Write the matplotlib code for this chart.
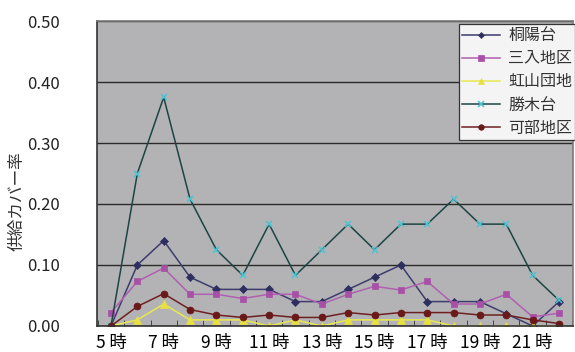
import numpy as np
import matplotlib.pyplot as plt
from matplotlib.ticker import MultipleLocator, FixedLocator

plt.rcParams['font.family'] = ['Noto Sans CJK JP', 'DejaVu Sans']

hours = list(range(5, 23))
tick_labels = [f"{h} 時" if h % 2 == 1 else "" for h in hours]

touyoudai = [0.00, 0.10, 0.14, 0.08, 0.06, 0.06, 0.06, 0.04, 0.04,
             0.06, 0.08, 0.10, 0.04, 0.04, 0.04, 0.02, 0.00, 0.04]
mirido = [0.022, 0.073, 0.095, 0.052, 0.052, 0.045, 0.052, 0.052, 0.036,
          0.052, 0.065, 0.059, 0.073, 0.036, 0.036, 0.052, 0.015, 0.021]
nijiyama = [0.00, 0.01, 0.036, 0.01, 0.01, 0.01, 0.00, 0.01, 0.00,
            0.01, 0.01, 0.01, 0.01, 0.00, 0.00, 0.00, 0.00, 0.00]
katsugidai = [0.00, 0.25, 0.375, 0.208, 0.125, 0.083, 0.167, 0.083, 0.125,
              0.167, 0.125, 0.167, 0.167, 0.208, 0.167, 0.167, 0.083, 0.042]
kabe = [0.00, 0.032, 0.053, 0.027, 0.018, 0.014, 0.018, 0.014, 0.014,
        0.022, 0.018, 0.022, 0.022, 0.022, 0.018, 0.018, 0.01, 0.004]

# name, values, line colour, marker colour, marker, marker size
series = [
    ("桐陽台", touyoudai, "#3c3c6e", "#2e2e60", "D", 3.8),
    ("三入地区", mirido, "#b060b0", "#a850a8", "s", 5),
    ("虹山団地", nijiyama, "#e8e850", "#e8e040", "^", 5.5),
    ("勝木台", katsugidai, "#1c4444", "#48c4d4", "x", 5),
    ("可部地区", kabe, "#6e2020", "#6a1818", "o", 5),
]

fig = plt.figure(figsize=(5.75, 3.52), dpi=100)
ax = fig.add_axes([0.1687, 0.0739, 0.8278, 0.8664])
ax.set_facecolor("#b3b3b5")

x = np.arange(len(hours))
for name, vals, lc, mc, mk, ms in series:
    ax.plot(x, vals, color=lc, lw=1.1, marker=mk, markersize=ms,
            markerfacecolor=mc, markeredgecolor=mc,
            markeredgewidth=1.1 if mk == "x" else 0.5, label=name)

ax.set_xlim(-0.53, len(hours) - 0.47)
ax.set_ylim(0, 0.5)
ax.yaxis.set_major_locator(MultipleLocator(0.1))
ax.yaxis.set_major_formatter(plt.FuncFormatter(lambda v, p: f"{v:.2f}"))
ax.grid(axis="y", color="#2a2a2a", lw=1)
ax.set_axisbelow(True)

ax.set_xticks(x)
ax.set_xticklabels(tick_labels)
ax.xaxis.set_minor_locator(FixedLocator(np.arange(-0.5, len(hours), 1)))
ax.tick_params(axis="x", which="major", length=0, labelsize=12.5, pad=6)
ax.tick_params(axis="x", which="minor", direction="in", length=4, color="#333333")
ax.tick_params(axis="y", length=0, labelsize=12, pad=27, labelcolor="#222222")

for side in ("left", "bottom"):
    ax.spines[side].set_color("#333333")
    ax.spines[side].set_linewidth(1.2)
for side in ("top", "right"):
    ax.spines[side].set_color("#7a7a7a")
    ax.spines[side].set_linewidth(1.2)

ax.text(-0.167, 0.41, "供給カバー率", transform=ax.transAxes, rotation=90,
        ha="center", va="center", fontsize=12, color="#333333")

leg = ax.legend(loc="upper right", bbox_to_anchor=(1.005, 0.99), fontsize=11.5,
                frameon=True, fancybox=False, handlelength=2.4, markerscale=0.8,
                borderpad=0.2, labelspacing=0.38, handletextpad=0.5,
                borderaxespad=0)
leg.get_frame().set_edgecolor("#333333")
leg.get_frame().set_facecolor("#f4f4f4")
leg.get_frame().set_linewidth(0.9)
leg.get_frame().set_alpha(1)
for t in leg.get_texts():
    t.set_color("#333333")

fig.savefig("out.png", dpi=100)
